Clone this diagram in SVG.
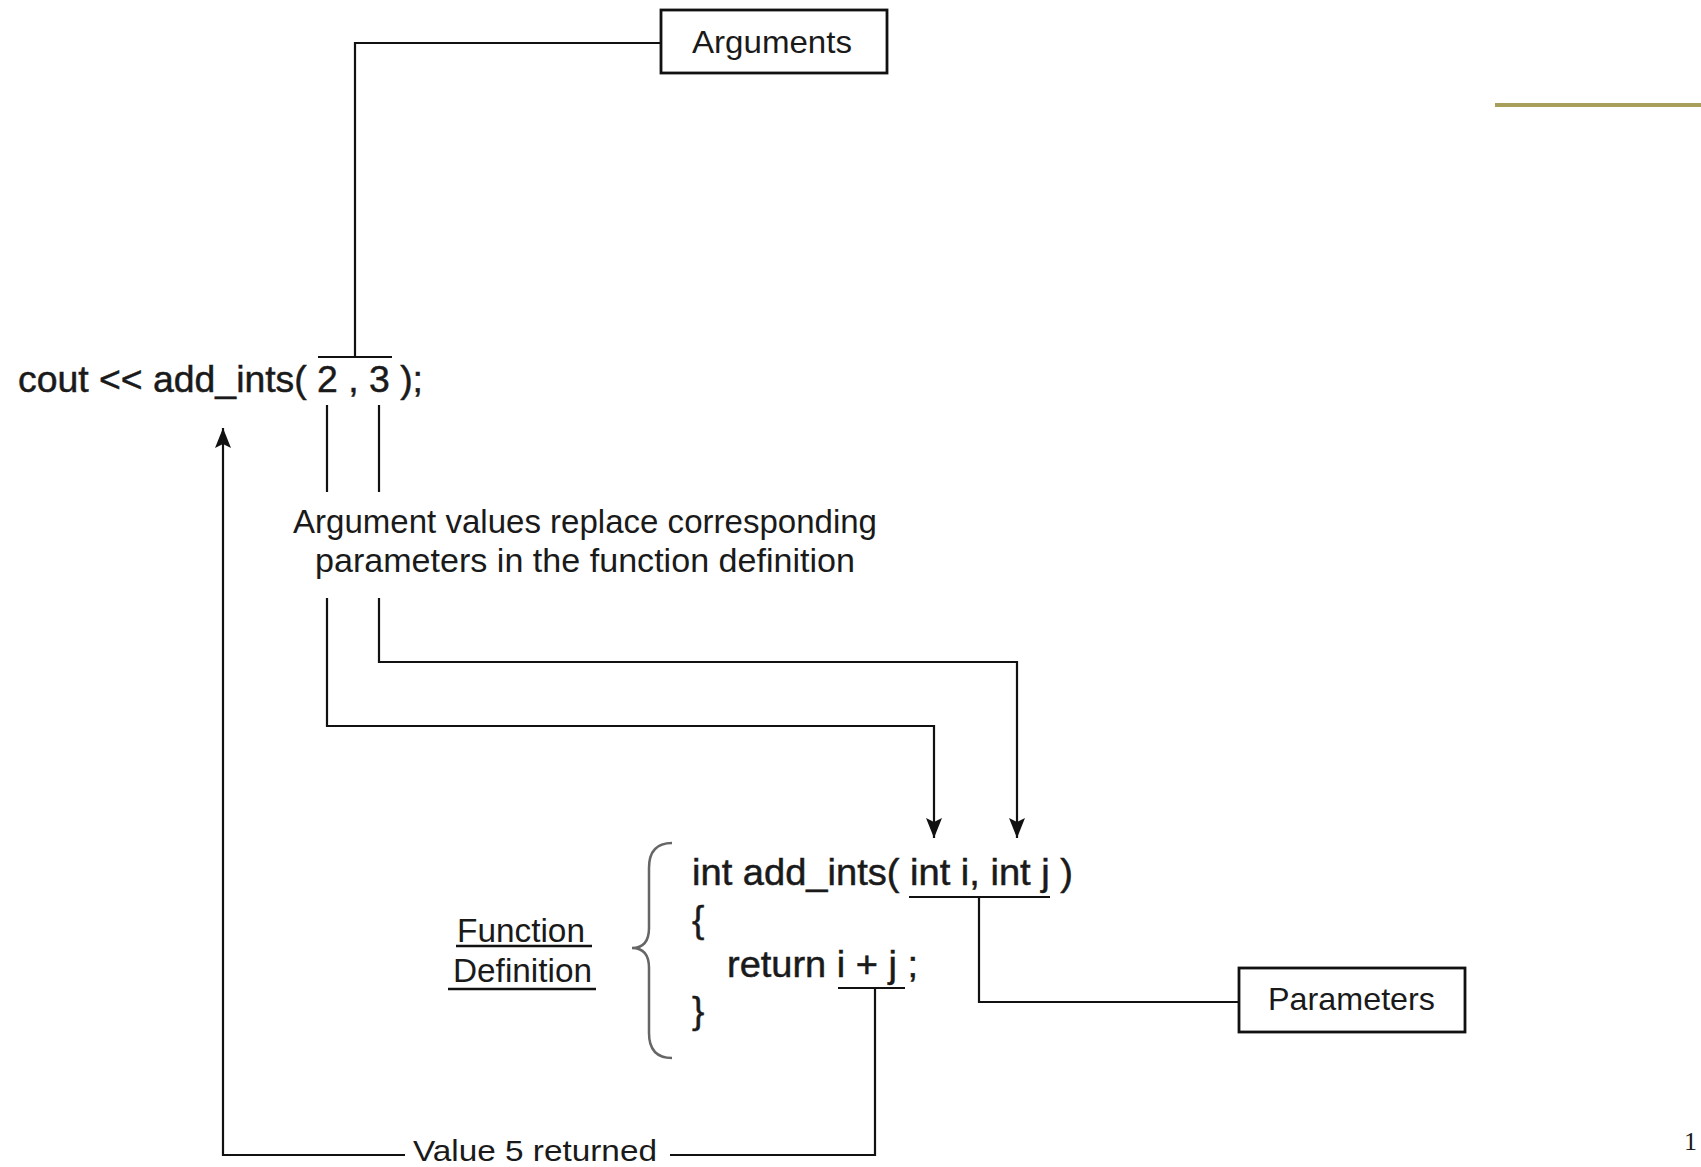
<svg xmlns="http://www.w3.org/2000/svg" width="1701" height="1167" viewBox="0 0 1701 1167">
<style>
text{font-family:"Liberation Sans",Arial,sans-serif;fill:#1a1a1a}
.code{font-size:37px;stroke:#1a1a1a;stroke-width:0.5}
.lbl{font-size:32px}
.cap{font-size:33px}
.ln{fill:none;stroke:#111;stroke-width:2.2}
.box{fill:#fff;stroke:#111;stroke-width:2.8}
</style>
<defs>
<marker id="ah" viewBox="0 0 20 16" refX="20" refY="8" markerWidth="20" markerHeight="16" markerUnits="userSpaceOnUse" orient="auto">
<path d="M0,0 L20,8 L0,16 L4,8 Z" fill="#111"/>
</marker>
</defs>
<rect x="0" y="0" width="1701" height="1167" fill="#fff"/>
<line x1="1495" y1="105" x2="1701" y2="105" stroke="#a8a05a" stroke-width="4"/>
<text x="1684" y="1150" style="font-family:'Liberation Serif',serif;font-size:26px">1</text>

<g id="connectors">
<path class="ln" d="M661,43 H355 V357"/>
<path class="ln" d="M318,357 H392"/>
<path class="ln" d="M327,405 V492"/>
<path class="ln" d="M379,405 V492"/>
<path class="ln" d="M327,598 V726 H934 V838" marker-end="url(#ah)"/>
<path class="ln" d="M379,598 V662 H1017 V838" marker-end="url(#ah)"/>
<path class="ln" d="M909,897 H1050"/>
<path class="ln" d="M979,897 V1002 H1239"/>
<path class="ln" d="M838,988 H905"/>
<path class="ln" d="M875,988 V1155 H670"/>
<path class="ln" d="M405,1155 H223 V428" marker-end="url(#ah)"/>
</g>

<g id="node-arguments">
<rect class="box" x="661" y="10" width="226" height="63"/>
<text class="lbl" x="692" y="53" textLength="160" lengthAdjust="spacingAndGlyphs">Arguments</text>
</g>

<g id="node-call">
<text class="code" x="18" y="392" textLength="405" lengthAdjust="spacingAndGlyphs">cout &lt;&lt; add_ints( 2 , 3 );</text>
</g>

<g id="node-caption">
<text class="cap" x="293" y="533" textLength="584" lengthAdjust="spacingAndGlyphs">Argument values replace corresponding</text>
<text class="cap" x="315" y="572" textLength="540" lengthAdjust="spacingAndGlyphs">parameters in the function definition</text>
</g>

<g id="node-definition">
<path d="M672,843 Q649,843 649,868 V928 Q649,948 632,948 Q649,948 649,968 V1033 Q649,1058 672,1058" fill="none" stroke="#666" stroke-width="2.5"/>
<text class="code" x="692" y="885" textLength="381" lengthAdjust="spacingAndGlyphs">int add_ints( int i, int j )</text>
<text class="code" x="692" y="932">{</text>
<text class="code" x="727" y="977" textLength="191" lengthAdjust="spacingAndGlyphs">return i + j ;</text>
<text class="code" x="692" y="1023">}</text>
</g>

<g id="node-function-label">
<text class="cap" x="457" y="942" textLength="128" lengthAdjust="spacingAndGlyphs">Function</text>
<line x1="456" y1="946" x2="592" y2="946" stroke="#111" stroke-width="2.5"/>
<text class="cap" x="453" y="982" textLength="139" lengthAdjust="spacingAndGlyphs">Definition</text>
<line x1="448" y1="989" x2="596" y2="989" stroke="#111" stroke-width="2.5"/>
</g>

<g id="node-parameters">
<rect class="box" x="1239" y="968" width="226" height="64"/>
<text class="lbl" x="1268" y="1010" textLength="167" lengthAdjust="spacingAndGlyphs">Parameters</text>
</g>

<g id="node-value">
<text x="413" y="1161" style="font-size:30px" textLength="244" lengthAdjust="spacingAndGlyphs">Value 5 returned</text>
</g>
</svg>
